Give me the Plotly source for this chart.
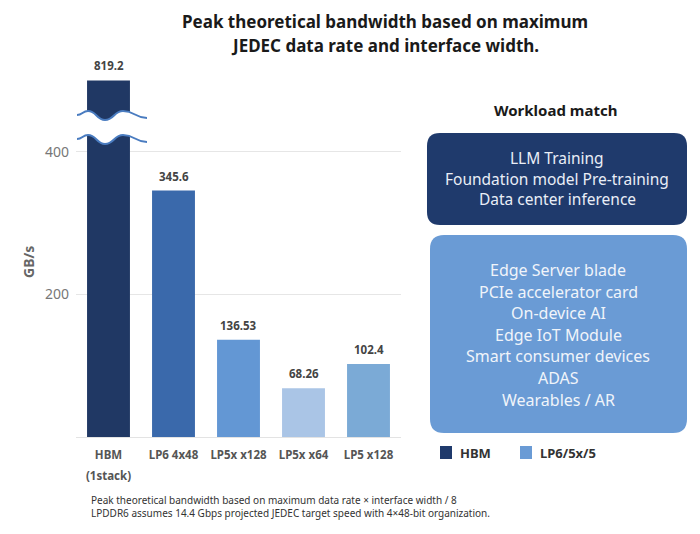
import plotly.graph_objects as go

# ---------------- data ----------------
categories = ["HBM<br>(1stack)", "LP6 4x48", "LP5x x128", "LP5x x64", "LP5 x128"]
bandwidth = [819.2, 345.6, 136.53, 68.26, 102.4]
value_labels = ["819.2", "345.6", "136.53", "68.26", "102.4"]
bar_colors = ["#203864", "#3a69ab", "#6397d4", "#aac5e6", "#7baad6"]
y_ticks = [200, 400]
axis_cap = 500  # broken-axis cap for display

title_lines = ["Peak theoretical bandwidth based on maximum",
               "JEDEC data rate and interface width."]
hbm_workloads = ["LLM Training", "Foundation model Pre-training", "Data center inference"]
lp_workloads = ["Edge Server blade", "PCIe accelerator card", "On-device AI",
                "Edge IoT Module", "Smart consumer devices", "ADAS", "Wearables / AR"]
legend_names = ["HBM", "LP6/5x/5"]
legend_colors = ["#1f3a6c", "#6a9bd5"]
footnotes = ["Peak theoretical bandwidth based on maximum data rate × interface width / 8",
             "LPDDR6 assumes 14.4 Gbps projected JEDEC target speed with 4×48-bit organization."]

W, H = 700, 534
OX, OY = 8, 8  # page body margin compensation
FONT = "Noto Sans"


def px(x):
    return (x - OX) / W


def py(y):
    return 1 - (y - OY) / H


def ppath(cmds):
    out = []
    for c in cmds:
        if isinstance(c, str):
            out.append(c)
        else:
            out.append(f"{px(c[0]):.5f},{py(c[1]):.5f}")
    return " ".join(out)


def rounded_rect(x0, y0, x1, y1, r):
    return ppath(["M", (x0 + r, y0), "L", (x1 - r, y0), "Q", (x1, y0), (x1, y0 + r),
                  "L", (x1, y1 - r), "Q", (x1, y1), (x1 - r, y1),
                  "L", (x0 + r, y1), "Q", (x0, y1), (x0, y1 - r),
                  "L", (x0, y0 + r), "Q", (x0, y0), (x0 + r, y0), "Z"])


def note(x, y, text, size, color, xanchor="center", bold=False):
    return dict(x=px(x), y=py(y), xref="paper", yref="paper", showarrow=False,
                xanchor=xanchor, yanchor="middle",
                text=f"<b>{text}</b>" if bold else text,
                font=dict(size=size, color=color, family=FONT))


display_vals = [min(v, axis_cap) for v in bandwidth]

fig = go.Figure()
fig.add_trace(go.Bar(x=categories, y=display_vals, marker=dict(color=bar_colors, line=dict(width=0)),
                     showlegend=False, hoverinfo="skip"))

annotations = []
for c, v, lab in zip(categories, display_vals, value_labels):
    annotations.append(dict(x=c, y=v, text=f"<b>{lab}</b>", showarrow=False, xref="x", yref="y",
                            xanchor="center", yanchor="bottom", yshift=5,
                            font=dict(size=11.5, color="#444", family=FONT)))

for i, line in enumerate(title_lines):
    annotations.append(note(385, 22 + i * 23, line, 17, "#1a1a1a", bold=True))

annotations.append(note(555, 110, "Workload match", 15, "#1a1a1a", bold=True))
for i, line in enumerate(hbm_workloads):
    annotations.append(note(557, 158 + i * 20.5, line, 15.5, "#e9eef7"))
for i, line in enumerate(lp_workloads):
    annotations.append(note(558, 270 + i * 21.6, line, 16, "#f0f4fa"))
for i, line in enumerate(footnotes):
    annotations.append(note(89, 500 + i * 13, line, 10, "#333", xanchor="left"))

# y axis title
annotations.append(dict(x=px(28), y=py(262), xref="paper", yref="paper", showarrow=False,
                        text="<b>GB/s</b>", textangle=-90, xanchor="center", yanchor="middle",
                        font=dict(size=14, color="#666", family=FONT)))

shapes = []
shapes.append(dict(type="path", xref="paper", yref="paper", path=rounded_rect(427, 133, 687, 225, 13),
                   fillcolor="#1f3a6c", line=dict(width=0), layer="below"))
shapes.append(dict(type="path", xref="paper", yref="paper", path=rounded_rect(430, 235, 687, 433, 14),
                   fillcolor="#6a9bd5", line=dict(width=0), layer="below"))

# legend (manual, from legend lists)
legend_x = [440, 520]
for lx, name, col in zip(legend_x, legend_names, legend_colors):
    shapes.append(dict(type="rect", xref="paper", yref="paper", x0=px(lx), x1=px(lx + 12),
                       y0=py(459), y1=py(446), fillcolor=col, line=dict(width=0)))
    annotations.append(note(lx + 18, 452.5, name, 13, "#333", xanchor="left", bold=True))


def wave(dy):
    return [(77, 115 + dy), (88, 111 + dy), (105, 120 + dy), (123, 111 + dy), (147, 118 + dy)]


def wave_cmds(pts):
    cmds = ["M", pts[0]]
    for a, b in zip(pts[:-1], pts[1:]):
        mx = (a[0] + b[0]) / 2
        cmds += ["C", (mx, a[1]), (mx, b[1]), b]
    return cmds


up = wave(0)
lo = wave(24)
band = wave_cmds(up) + ["L", lo[-1]]
rev = lo[::-1]
for a, b in zip(rev[:-1], rev[1:]):
    mx = (a[0] + b[0]) / 2
    band += ["C", (mx, a[1]), (mx, b[1]), b]
band += ["Z"]
shapes.append(dict(type="path", xref="paper", yref="paper", path=ppath(band),
                   fillcolor="white", line=dict(width=0), layer="above"))
for pts in (up, lo):
    shapes.append(dict(type="path", xref="paper", yref="paper", path=ppath(wave_cmds(pts)),
                       line=dict(color="#4a7cc0", width=2), layer="above"))

tick_text = ["<br>".join(f"<span style='font-size:11.5px'><b>{part}</b></span>" for part in c.split("<br>"))
             for c in categories]

fig.update_layout(
    width=W, height=H, margin=dict(l=0, r=0, t=0, b=0, autoexpand=False),
    paper_bgcolor="white", plot_bgcolor="white",
    font=dict(family=FONT),
    bargap=0.34, showlegend=False,
    xaxis=dict(domain=[px(76), px(401)], showline=True, linecolor="#e3e3e3", linewidth=1,
               tickfont=dict(size=16, color="#555"), ticks="", automargin=False,
               tickvals=categories, ticktext=tick_text, ticklabelstandoff=2),
    yaxis=dict(domain=[py(437), py(66.2)], range=[0, 520], tickvals=y_ticks, showgrid=True,
               gridcolor="#e6e6e6", zeroline=False, tickfont=dict(size=14, color="#777"),
               automargin=False, ticks="", ticklabelstandoff=6),
    annotations=annotations, shapes=shapes,
)

fig.write_html("out.html")
